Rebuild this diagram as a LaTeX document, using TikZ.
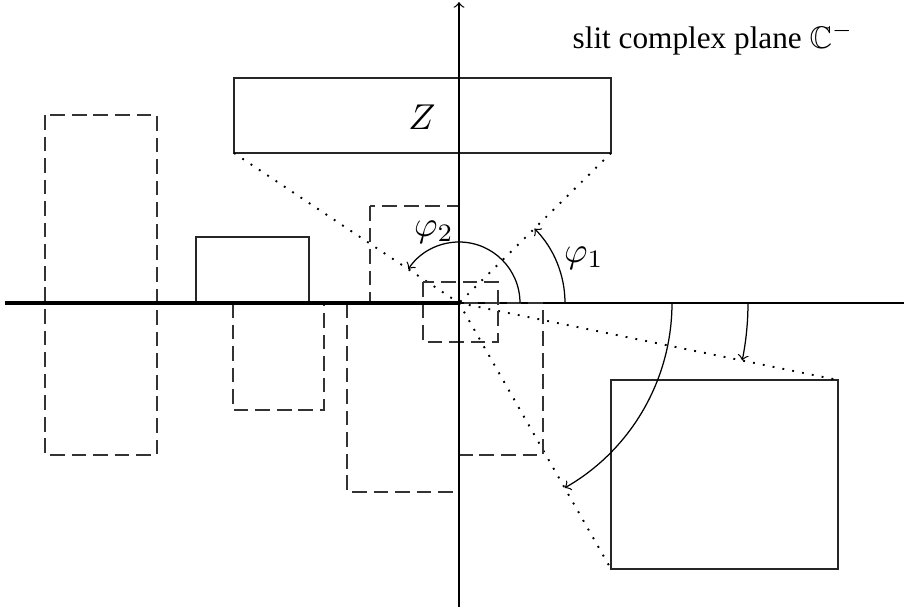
\documentclass[tikz,border=0pt]{standalone}
\usepackage{amssymb}
\usepackage[no-math]{fontspec}
\setmainfont{Liberation Serif}
\begin{document}
\begin{tikzpicture}[x=0.32pt,y=0.32pt,
  thinline/.style={line width=0.4pt},
  boxline/.style={line width=0.35pt,black!85},
  dashbox/.style={line width=0.35pt,black!80,dash pattern=on 4.7pt off 2.2pt},
  dotline/.style={line width=0.6pt,dash pattern=on 0.6pt off 2.6pt},
  anglearc/.style={line width=0.4pt,->},
  mathlabel/.style={scale=1.15}]
\useasboundingbox (-459,-304) rectangle (445,303);
% axes
\coordinate (O) at (0,0);
\coordinate (xl) at (-454,0);
\coordinate (xr) at (445,0);
\coordinate (yb) at (0,-304);
\coordinate (yt) at (0,301);
\draw[thinline] (xl) -- (xr);
% Z
\draw[boxline] (-225,150) rectangle (152,225);
\node[mathlabel] (Zl) at (-37,186) {$Z$};
\coordinate (z1) at (-225,150);
\coordinate (z2) at (152,150);
\draw[dotline] (z1) -- (O);
\draw[dotline] (z2) -- (O);
% lower right box
\draw[boxline] (152,-77) rectangle (379,-266);
\coordinate (w1) at (379,-77);
\coordinate (w2) at (152,-266);
\draw[dotline] (O) -- (w1);
\draw[dotline] (O) -- (w2);
% solid small box
\draw[boxline] (-263,66) rectangle (-150,0);
% dashed boxes
\draw[dashbox] (-414,188) rectangle (-302,-152);
\draw[dashbox] (-226,0) rectangle (-135,-107);
\draw[dashbox] (-89,97) rectangle (0,0);
\draw[dashbox] (-112,0) rectangle (0,-189);
\draw[dashbox] (0,0) rectangle (84,-152);
\draw[dashbox] (-36,21) rectangle (39,-39);
% slit and vertical axis on top
\draw[line width=1.4pt] (xl) -- (O);
\draw[thinline,->] (yb) -- (yt);
% angle arcs
\draw[anglearc] (106,0) arc[start angle=0,end angle=44.6,radius=106];
\draw[anglearc] (61,0) arc[start angle=0,end angle=146.3,radius=61];
\draw[anglearc] (213,0) arc[start angle=0,end angle=-60.26,radius=213];
\draw[anglearc] (289,0) arc[start angle=0,end angle=-11.48,radius=289];
% labels
\node[mathlabel] (p1) at (125,45) {$\varphi_1$};
\node[mathlabel] (p2) at (-25,71) {$\varphi_2$};
\node (title) at (254,264) {slit complex plane $\mathbb{C}^-$};
\end{tikzpicture}
\end{document}
